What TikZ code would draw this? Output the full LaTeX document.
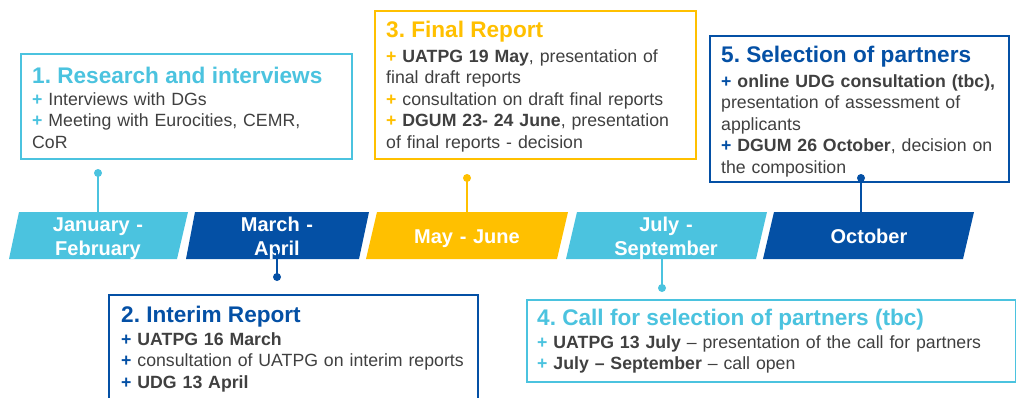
\documentclass[tikz,border=0pt]{standalone}
\usepackage{fontspec}
\setmainfont{Liberation Sans}
\frenchspacing
\definecolor{skyc}{HTML}{4BC3DF}
\definecolor{navyc}{HTML}{0450A5}
\definecolor{goldc}{HTML}{FFC000}
\definecolor{inkc}{HTML}{404040}
% coloured bullet in front of each item
\newcommand\bul[1]{{\color{#1}\bfseries+}\ }

\begin{document}
\begin{tikzpicture}[x=1pt,y=-1pt,
  frame/.style={draw=#1, line width=2.4pt, inner sep=0, anchor=north west, fill=white},
  heading/.style={text=#1, font=\fontsize{22.6}{26}\selectfont\bfseries, inner sep=0, anchor=base west},
  body/.style={text=inkc, font=\fontsize{17.7}{21.5}\selectfont, inner sep=0, anchor=north west, align=left, text width=480pt},
  month/.style={text=white, font=\fontsize{20}{24.5}\selectfont\bfseries, inner sep=0, anchor=north, align=center, text width=180pt},
  stem/.style={draw=#1, line width=2pt},
]
\useasboundingbox (0,0) rectangle (1016,397);
\clip (0,0) rectangle (1016,397);

% ---- timeline bar ----
\fill[skyc]  (19,212) -- (188,212) -- (177,259) -- (9,259) -- cycle;
\fill[navyc] (195,212) -- (369,212) -- (359,259) -- (186,259) -- cycle;
\fill[goldc] (377,212) -- (568,212) -- (557,259) -- (366,259) -- cycle;
\fill[skyc]  (577,212) -- (767,212) -- (756,259) -- (566,259) -- cycle;
\fill[navyc] (774,212) -- (974,212) -- (963,259) -- (763,259) -- cycle;

\node[month] (m1) at (98,213.85)  {\strut January -\\February};
\node[month] (m2) at (277,213.85) {\strut March -\\April};
\node[month] (m3) at (467,225.85) {\strut May - June};
\node[month] (m4) at (666,213.85) {\strut July -\\September};
\node[month] (m5) at (869,225.85) {\strut October};

% ---- attachment points ----
\coordinate (p1) at (98,173);  \coordinate (q1) at (98,212);
\coordinate (p2) at (277,277); \coordinate (q2) at (277,250);
\coordinate (p3) at (467,178); \coordinate (q3) at (467,212);
\coordinate (p4) at (662,288); \coordinate (q4) at (662,258);
\coordinate (p5) at (861,178); \coordinate (q5) at (861,212);

\draw[stem=skyc]  (p1) -- (q1);
\draw[stem=navyc] (p2) -- (q2);
\draw[stem=goldc] (p3) -- (q3);
\draw[stem=skyc]  (p4) -- (q4);
\draw[stem=navyc] (p5) -- (q5);

% ---- phase boxes ----
\node[frame=skyc,  minimum width=331pt, minimum height=105pt] (b1) at (20,53) {};
\node[frame=navyc, minimum width=369pt, minimum height=120pt] (b2) at (108,294) {};
\node[frame=goldc, minimum width=321pt, minimum height=148pt] (b3) at (374,10) {};
\node[frame=skyc,  minimum width=489pt, minimum height=82pt]  (b4) at (526,299) {};
\node[frame=navyc, minimum width=299pt, minimum height=146pt] (b5) at (709,35) {};

\node[heading=skyc] (h1) at (32,83) {1. Research and interviews};
\node[body] (t1) at (32,89.95) {\strut\bul{skyc}Interviews with DGs\\
  \bul{skyc}Meeting with Eurocities, CEMR,\\
  CoR};

\node[heading=navyc] (h2) at (121,322) {2. Interim Report};
\node[body] (t2) at (121,329.95) {\strut\bul{navyc}\textbf{UATPG 16 March}\\
  \bul{navyc}consultation of UATPG on interim reports\\
  \bul{navyc}\textbf{UDG 13 April}};

\node[heading=goldc] (h3) at (386,37) {3. Final Report};
\node[body] (t3) at (386,46.95) {\strut\bul{goldc}\textbf{UATPG 19 May}, presentation of\\
  final draft reports\\
  \bul{goldc}consultation on draft final reports\\
  \bul{goldc}\textbf{DGUM 23- 24 June}, presentation\\
  of final reports - decision};

\node[heading=skyc] (h4) at (537,325) {4. Call for selection of partners (tbc)};
\node[body] (t4) at (537,332.95) {\strut\bul{skyc}\textbf{UATPG 13 July} -- presentation of the call for partners\\
  \bul{skyc}\textbf{July -- September} -- call open};

\node[heading=navyc] (h5) at (721,62) {5. Selection of partners};
\node[body] (t5) at (721,71.95) {\strut\bul{navyc}\textbf{online UDG consultation (tbc),}\\
  presentation of assessment of\\
  applicants\\
  \bul{navyc}\textbf{DGUM 26 October}, decision on\\
  the composition};

% ---- knobs at the end of each stem ----
\fill[skyc]  (p1) circle (4pt);
\fill[navyc] (p2) circle (4pt);
\fill[goldc] (p3) circle (4pt);
\fill[skyc]  (p4) circle (4pt);
\fill[navyc] (p5) circle (4pt);
\end{tikzpicture}
\end{document}
